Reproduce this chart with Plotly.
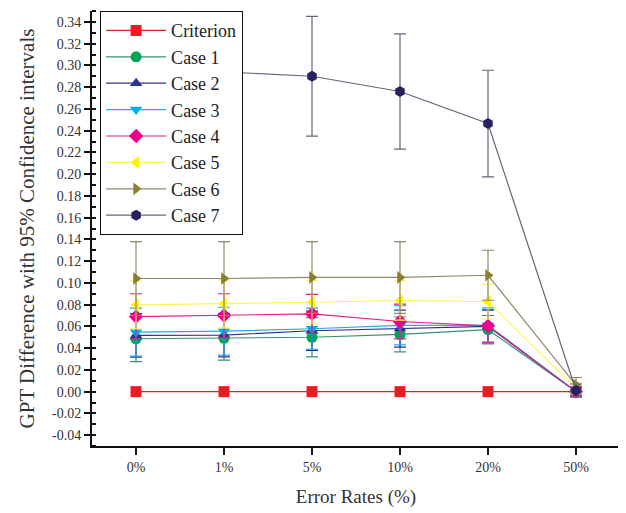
import plotly.graph_objects as go

categories = ["0%", "1%", "5%", "10%", "20%", "50%"]

series_names = ["Criterion", "Case 1", "Case 2", "Case 3", "Case 4", "Case 5", "Case 6", "Case 7"]

criterion = [0.0, 0.0, 0.0, 0.0, 0.0, 0.0]
case1 = [0.0486, 0.049, 0.050, 0.0526, 0.057, 0.0]
case2 = [0.0517, 0.052, 0.056, 0.058, 0.060, 0.0]
case3 = [0.0547, 0.0556, 0.0578, 0.061, 0.061, 0.0]
case4 = [0.069, 0.070, 0.0715, 0.0645, 0.0605, 0.0]
case5 = [0.0798, 0.0807, 0.0822, 0.0838, 0.0828, 0.003]
case6 = [0.104, 0.104, 0.105, 0.105, 0.107, 0.006]
case7 = [0.297, 0.294, 0.290, 0.276, 0.2465, 0.001]

err_criterion = [0, 0, 0, 0, 0, 0]
err1 = [0.021, 0.020, 0.018, 0.016, 0.013, 0.004]
err2 = [0.020, 0.020, 0.018, 0.017, 0.015, 0.004]
err3 = [0.022, 0.022, 0.019, 0.018, 0.016, 0.004]
err4 = [0.021, 0.020, 0.018, 0.016, 0.015, 0.004]
err5 = [0.022, 0.022, 0.020, 0.018, 0.016, 0.005]
err6 = [0.034, 0.034, 0.033, 0.033, 0.023, 0.007]
err7 = [0.055, 0.056, 0.055, 0.053, 0.049, 0.006]

y_tick_values = [-0.04, -0.02, 0.0, 0.02, 0.04, 0.06, 0.08, 0.10, 0.12, 0.14, 0.16, 0.18,
                 0.20, 0.22, 0.24, 0.26, 0.28, 0.30, 0.32, 0.34]
y_tick_labels = ["-0.04", "-0.02", "0.00", "0.02", "0.04", "0.06", "0.08", "0.10", "0.12", "0.14",
                 "0.16", "0.18", "0.20", "0.22", "0.24", "0.26", "0.28", "0.30", "0.32", "0.34"]

values = [criterion, case1, case2, case3, case4, case5, case6, case7]
errors = [err_criterion, err1, err2, err3, err4, err5, err6, err7]

marker_colors = ["#ed1c24", "#00a651", "#2e3192", "#00aeef", "#ec008c", "#fff200", "#8c7e2c", "#262262"]
line_colors = ["#ed1c24", "#3a8f7a", "#2e3192", "#29a9e0", "#e0208c", "#fff35a", "#8f8a6a", "#66667a"]
symbols = ["square", "circle", "triangle-up", "triangle-down", "diamond", "triangle-left", "triangle-right", "hexagon"]

fig = go.Figure()
for name, v, e, mc, lc, sym in zip(series_names, values, errors, marker_colors, line_colors, symbols):
    fig.add_trace(go.Scatter(
        x=categories, y=v, name=name, mode="lines+markers",
        line=dict(color=lc, width=1.2),
        marker=dict(symbol=sym, color=mc, size=11, line=dict(width=0)),
        error_y=dict(type="data", array=e, visible=any(x > 0 for x in e),
                     color=lc, thickness=1.2, width=6),
        cliponaxis=False,
    ))

font_family = "Liberation Serif, Times New Roman, serif"

# the page body has an 8px default margin; margins compensate for it
fig.update_layout(
    width=626, height=513,
    margin=dict(l=84, r=14, t=3, b=75),
    paper_bgcolor="white", plot_bgcolor="white",
    font=dict(family=font_family, color="#222", size=14),
    showlegend=True,
    legend=dict(
        x=0.015, y=1.0, xanchor="left", yanchor="top",
        bordercolor="#111", borderwidth=1.2, bgcolor="white",
        font=dict(family=font_family, size=18, color="#222"),
        tracegroupgap=0, itemwidth=60,
    ),
    xaxis=dict(
        type="category", range=[-0.5, 5.5],
        showline=True, linecolor="#111", linewidth=2,
        ticks="outside", ticklen=7, tickwidth=2, tickcolor="#111",
        showgrid=False, zeroline=False,
        tickfont=dict(family=font_family, size=14, color="#333"),
        title=dict(text="Error Rates (%)", font=dict(family=font_family, size=19, color="#333"), standoff=16),
        minor=dict(ticks="outside", ticklen=4, tickwidth=2, tickcolor="#111", showgrid=False),
    ),
    yaxis=dict(
        range=[-0.05, 0.35], tickmode="array", tickvals=y_tick_values, ticktext=y_tick_labels,
        showline=True, linecolor="#111", linewidth=2,
        ticks="outside", ticklen=6, tickwidth=2, tickcolor="#111",
        showgrid=False, zeroline=False,
        tickfont=dict(family=font_family, size=14, color="#333"),
        title=dict(text="GPT Difference with 95% Confidence intervals", font=dict(family=font_family, size=21, color="#333"), standoff=12),
        minor=dict(tickmode="linear", tick0=0, dtick=0.01, ticks="inside", ticklen=4, tickwidth=2, tickcolor="#111", showgrid=False),
    ),
)

fig.write_html("out.html")
